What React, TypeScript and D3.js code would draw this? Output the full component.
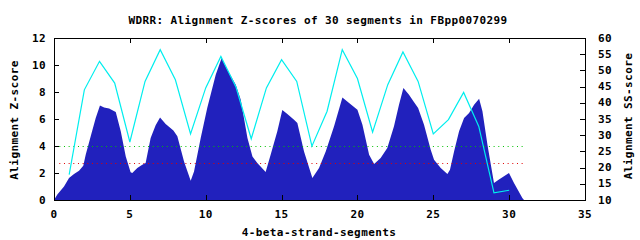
import React, { useEffect, useRef } from "react";
import * as d3 from "d3";

// Z-score profile (smoothed)
const zPos = [
  0, 0.22, 0.66, 0.99, 1.32, 1.65, 1.93, 2.09, 2.42, 2.75, 3.03, 3.3, 3.63, 4.07, 4.4, 4.73,
  5.05, 5.16, 5.49, 5.82, 6.04, 6.37, 6.7, 6.99, 7.36, 7.87, 8.13, 8.57, 9.01, 9.23, 9.67,
  10.1, 10.66, 11.05, 11.43, 11.98, 12.31, 12.75, 13.08, 13.4, 13.95, 14.28, 14.72, 15.05,
  15.38, 15.82, 16.04, 16.48, 17.03, 17.47, 17.91, 18.46, 19.01, 19.45, 20.0, 20.33, 20.77,
  21.1, 21.53, 21.97, 22.41, 22.74, 23.03, 23.4, 23.69, 24.0, 24.39, 24.83, 25.05, 25.49,
  25.93, 26.1, 26.37, 26.7, 27.03, 27.36, 27.69, 28.02, 28.24, 28.57, 29.0, 29.33, 29.99,
  30.32, 30.87, 30.98,
];
const zScores = [
  0, 0.4, 1.0, 1.63, 1.93, 2.17, 2.54, 3.36, 4.72, 6.07, 7.0, 6.86, 6.77, 6.52, 5.09, 3.23,
  2.05, 2.0, 2.37, 2.62, 2.74, 4.6, 5.53, 6.12, 5.63, 5.14, 4.72, 2.86, 1.43, 2.12, 4.6,
  6.81, 9.28, 10.52, 9.65, 8.54, 7.43, 4.6, 3.23, 2.74, 2.07, 3.36, 5.09, 6.67,
  6.37, 5.95, 5.7, 3.6, 1.63, 2.37, 3.6, 5.46, 7.6, 7.19, 6.69, 5.58, 3.36,
  2.67, 3.11, 3.85, 5.46, 7.06, 8.3, 7.8, 7.31, 6.81, 5.58, 3.73, 2.99, 2.37,
  1.93, 2.25, 3.6, 5.09, 6.07, 6.44, 7.06, 7.5, 6.57, 4.1, 1.26, 1.51, 2.0,
  1.26, 0.15, 0,
];

// SS-score per segment
const segments = d3.range(1, 31);
const ssScores = [
  17.8, 44.0, 52.8, 46.1, 27.9, 46.6, 56.4, 47.1, 30.4, 44.6, 54.3, 44.8, 28.9, 44.6, 53.3,
  46.6, 26.6, 37.4, 56.4, 47.5, 30.9, 45.6, 55.7, 46.6, 30.4, 34.8, 43.2, 32.7, 12.2, 13.0,
];

// threshold lines (Z-score)
const thresholds = [4, 2.72];
const thresholdColors = ["#00c000", "#e00000"];
const thresholdSpan = [0.35, 31];

const xTicks = [0, 5, 10, 15, 20, 25, 30, 35];
const yTicks = [0, 2, 4, 6, 8, 10, 12];
const y2Ticks = [10, 15, 20, 25, 30, 35, 40, 45, 50, 55, 60];

const title = "WDRR: Alignment Z-scores of 30 segments in FBpp0070299";
const xLabel = "4-beta-strand-segments";
const yLabel = "Alignment Z-score";
const y2Label = "Alignment SS-score";

const W = 640;
const H = 240;
const L = 54;
const R = 585;
const T = 38;
const B = 200;
const font = "'DejaVu Sans Mono', monospace";

export default function App() {
  const ref = useRef<SVGSVGElement>(null);

  useEffect(() => {
    const svg = d3.select(ref.current);
    svg.selectAll("*").remove();

    const x = d3.scaleLinear().domain([0, 35]).range([L, R]);
    const y = d3.scaleLinear().domain([0, 12]).range([B, T]);
    const y2 = d3.scaleLinear().domain([10, 60]).range([B, T]);

    svg.append("rect").attr("width", W).attr("height", H).attr("fill", "#fff");

    const zData = zPos.map((p, i) => [p, zScores[i]] as [number, number]);
    const area = d3
      .area<[number, number]>()
      .x(d => x(d[0]))
      .y0(y(0))
      .y1(d => y(d[1]));
    svg.append("path").attr("d", area(zData)).attr("fill", "#2121bd");

    thresholds.forEach((t, i) => {
      svg
        .append("line")
        .attr("x1", x(thresholdSpan[0]))
        .attr("x2", x(thresholdSpan[1]))
        .attr("y1", Math.round(y(t)) + 0.5)
        .attr("y2", Math.round(y(t)) + 0.5)
        .attr("stroke", thresholdColors[i])
        .attr("stroke-width", 1)
        .attr("stroke-dasharray", "1,3.67");
    });

    const line = d3
      .line<number>()
      .x((d, i) => x(segments[i]))
      .y(d => y2(d));
    svg
      .append("path")
      .attr("d", line(ssScores))
      .attr("fill", "none")
      .attr("stroke", "#00eeee")
      .attr("stroke-width", 1.2);

    // frame
    svg
      .append("rect")
      .attr("x", L + 0.5)
      .attr("y", T + 0.5)
      .attr("width", R - L)
      .attr("height", B - T)
      .attr("fill", "none")
      .attr("stroke", "#000")
      .attr("stroke-width", 1);

    const tl = 5;
    const ticks = svg.append("g").attr("stroke", "#000").attr("stroke-width", 1);
    xTicks.slice(1, -1).forEach(t => {
      const px = Math.round(x(t)) + 0.5;
      ticks.append("line").attr("x1", px).attr("x2", px).attr("y1", B).attr("y2", B - tl);
      ticks.append("line").attr("x1", px).attr("x2", px).attr("y1", T).attr("y2", T + tl);
    });
    yTicks.slice(1, -1).forEach(t => {
      const py = Math.round(y(t)) + 0.5;
      ticks.append("line").attr("x1", L).attr("x2", L + tl).attr("y1", py).attr("y2", py);
    });
    y2Ticks.slice(1, -1).forEach(t => {
      const py = Math.round(y2(t)) + 0.5;
      ticks.append("line").attr("x1", R).attr("x2", R - tl).attr("y1", py).attr("y2", py);
    });

    const txt = svg
      .append("g")
      .attr("font-family", font)
      .attr("font-weight", "bold")
      .attr("font-size", 11)
      .attr("letter-spacing", 0.4)
      .attr("fill", "#000");

    xTicks.forEach(t => {
      txt
        .append("text")
        .attr("x", x(t))
        .attr("y", 214)
        .attr("text-anchor", "middle")
        .attr("dominant-baseline", "central")
        .text(t);
    });
    yTicks.forEach(t => {
      txt
        .append("text")
        .attr("x", 46)
        .attr("y", y(t))
        .attr("text-anchor", "end")
        .attr("dominant-baseline", "central")
        .text(t);
    });
    y2Ticks.forEach(t => {
      txt
        .append("text")
        .attr("x", 598)
        .attr("y", y2(t))
        .attr("text-anchor", "start")
        .attr("dominant-baseline", "central")
        .text(t);
    });

    txt
      .append("text")
      .attr("x", 318)
      .attr("y", 20)
      .attr("text-anchor", "middle")
      .attr("dominant-baseline", "central")
      .text(title);
    txt
      .append("text")
      .attr("x", 319)
      .attr("y", 232)
      .attr("text-anchor", "middle")
      .attr("dominant-baseline", "central")
      .text(xLabel);
    txt
      .append("text")
      .attr("transform", "translate(14,120) rotate(-90)")
      .attr("text-anchor", "middle")
      .attr("dominant-baseline", "central")
      .text(yLabel);
    txt
      .append("text")
      .attr("transform", "translate(628,116) rotate(-90)")
      .attr("text-anchor", "middle")
      .attr("dominant-baseline", "central")
      .text(y2Label);
  }, []);

  return (
    <svg
      ref={ref}
      width={W}
      height={H}
      style={{ position: "absolute", left: 0, top: 0 }}
    />
  );
}
